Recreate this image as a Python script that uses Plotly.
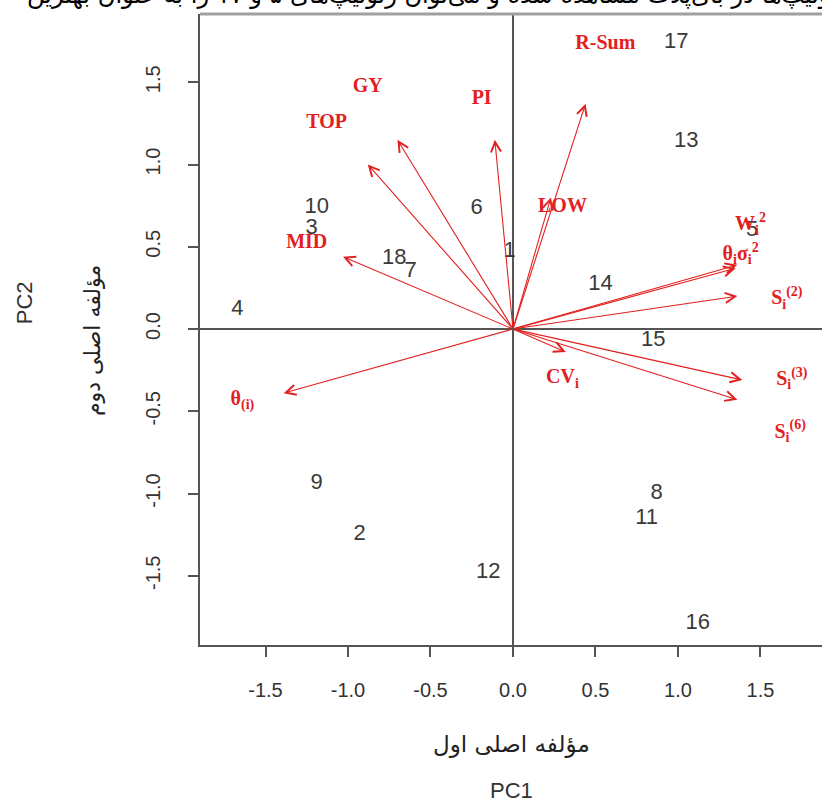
import plotly.graph_objects as go

# ---- data ----
genotypes = [str(i) for i in range(1, 19)]
pc1_scores = [-0.02, -0.93, -1.22, -1.67, 1.45, -0.22, -0.62, 0.87, -1.19,
              -1.19, 0.81, -0.15, 1.05, 0.53, 0.85, 1.12, 0.99, -0.72]
pc2_scores = [0.47, -1.25, 0.61, 0.12, 0.60, 0.73, 0.35, -1.00, -0.94,
              0.74, -1.15, -1.48, 1.14, 0.27, -0.07, -1.79, 1.74, 0.43]

var_labels = ["R-Sum", "PI", "GY", "TOP", "MID", "LOW",
              "W<sub>i</sub><sup>2</sup>", "θ<sub>i</sub>σ<sub>i</sub><sup>2</sup>",
              "S<sub>i</sub><sup>(2)</sup>", "S<sub>i</sub><sup>(3)</sup>",
              "S<sub>i</sub><sup>(6)</sup>", "CV<sub>i</sub>", "θ<sub>(i)</sub>"]
var_pc1 = [0.44, -0.11, -0.70, -0.88, -1.03, 0.23, 1.36, 1.35, 1.36, 1.39, 1.36, 0.32, -1.39]
var_pc2 = [1.37, 1.15, 1.15, 1.00, 0.44, 0.80, 0.39, 0.37, 0.20, -0.31, -0.43, -0.14, -0.39]
label_pc1 = [0.56, -0.19, -0.88, -1.13, -1.25, 0.30, 1.44, 1.38, 1.66, 1.69, 1.68, 0.30, -1.64]
label_pc2 = [1.73, 1.40, 1.47, 1.25, 0.52, 0.74, 0.63, 0.45, 0.18, -0.31, -0.63, -0.30, -0.43]

tick_vals = [-1.5, -1.0, -0.5, 0.0, 0.5, 1.0, 1.5]
tick_text = ["-1.5", "-1.0", "-0.5", "0.0", "0.5", "1.0", "1.5"]

RED = "#e3201f"
GREY = "#3a3a3a"

fig = go.Figure()

fig.add_trace(go.Scatter(
    x=pc1_scores, y=pc2_scores, mode="text", text=genotypes,
    textfont=dict(family="Liberation Sans, Arial", size=22, color=GREY),
    hoverinfo="skip", showlegend=False))

fig.add_trace(go.Scatter(
    x=label_pc1, y=label_pc2, mode="text", text=var_labels,
    textfont=dict(family="Liberation Serif, Times New Roman", size=20, color=RED,
                  weight="bold"),
    hoverinfo="skip", showlegend=False))

annotations = []
for vx, vy in zip(var_pc1, var_pc2):
    annotations.append(dict(
        x=vx, y=vy, ax=0, ay=0, xref="x", yref="y", axref="x", ayref="y",
        text="", showarrow=True, arrowhead=5, arrowsize=1.8, arrowwidth=1.1,
        arrowcolor=RED, standoff=0, startstandoff=0))

# axis titles (Persian + English)
annotations += [
    dict(text="مؤلفه اصلی اول", xref="paper", yref="paper", x=0.5, y=-0.158,
         showarrow=False, font=dict(family="DejaVu Sans", size=23, color="#222"),
         xanchor="center", yanchor="middle"),
    dict(text="PC1", xref="paper", yref="paper", x=0.5, y=-0.230,
         showarrow=False, font=dict(family="Liberation Sans, Arial", size=22, color="#333"),
         xanchor="center", yanchor="middle"),
    dict(text="مؤلفه اصلی دوم", xref="paper", yref="paper", x=-0.174, y=0.483,
         showarrow=False, textangle=-90,
         font=dict(family="DejaVu Sans", size=22, color="#222"),
         xanchor="center", yanchor="middle"),
    dict(text="PC2", xref="paper", yref="paper", x=-0.281, y=0.542,
         showarrow=False, textangle=-90,
         font=dict(family="Liberation Sans, Arial", size=22, color="#333"),
         xanchor="center", yanchor="middle"),
    dict(text="پراکنش ژنوتیپ‌ها در بای‌پلات مشاهده شده و می‌توان ژنوتیپ‌های ۵ و ۱۷ را به عنوان بهترین",
         xref="paper", yref="paper", x=0.45, y=1.030, showarrow=False,
         font=dict(family="DejaVu Serif, DejaVu Sans", size=24, color="#000"),
         xanchor="center", yanchor="middle"),
]

fig.update_layout(
    width=822, height=806,
    margin=dict(l=200, r=0, t=14, b=161),
    paper_bgcolor="white", plot_bgcolor="white",
    annotations=annotations,
    shapes=[dict(type="line", xref="paper", yref="paper", x0=0, x1=1, y0=1, y1=1,
                 line=dict(color="#a0a0a0", width=3))],
)

fig.update_xaxes(
    range=[-1.897, 1.873], tickvals=tick_vals, ticktext=tick_text,
    showgrid=False, zeroline=True, zerolinecolor="#555", zerolinewidth=2,
    showline=True, linecolor="#555", linewidth=2, mirror=False,
    ticks="outside", ticklen=10, tickcolor="#555", tickwidth=2,
    ticklabelstandoff=16,
    tickfont=dict(family="Liberation Sans, Arial", size=20, color="#333"))

fig.update_yaxes(
    range=[-1.921, 1.915], tickvals=tick_vals, ticktext=tick_text,
    showgrid=False, zeroline=True, zerolinecolor="#555", zerolinewidth=2,
    showline=True, linecolor="#555", linewidth=2, mirror=False,
    ticks="outside", ticklen=10, tickcolor="#555", tickwidth=2, tickangle=-90,
    ticklabelstandoff=20,
    tickfont=dict(family="Liberation Sans, Arial", size=20, color="#333"))

fig.write_html("out.html",
               config={"displayModeBar": False, "staticPlot": True},
               post_script="document.body.style.margin='0';document.body.style.overflow='hidden';")
